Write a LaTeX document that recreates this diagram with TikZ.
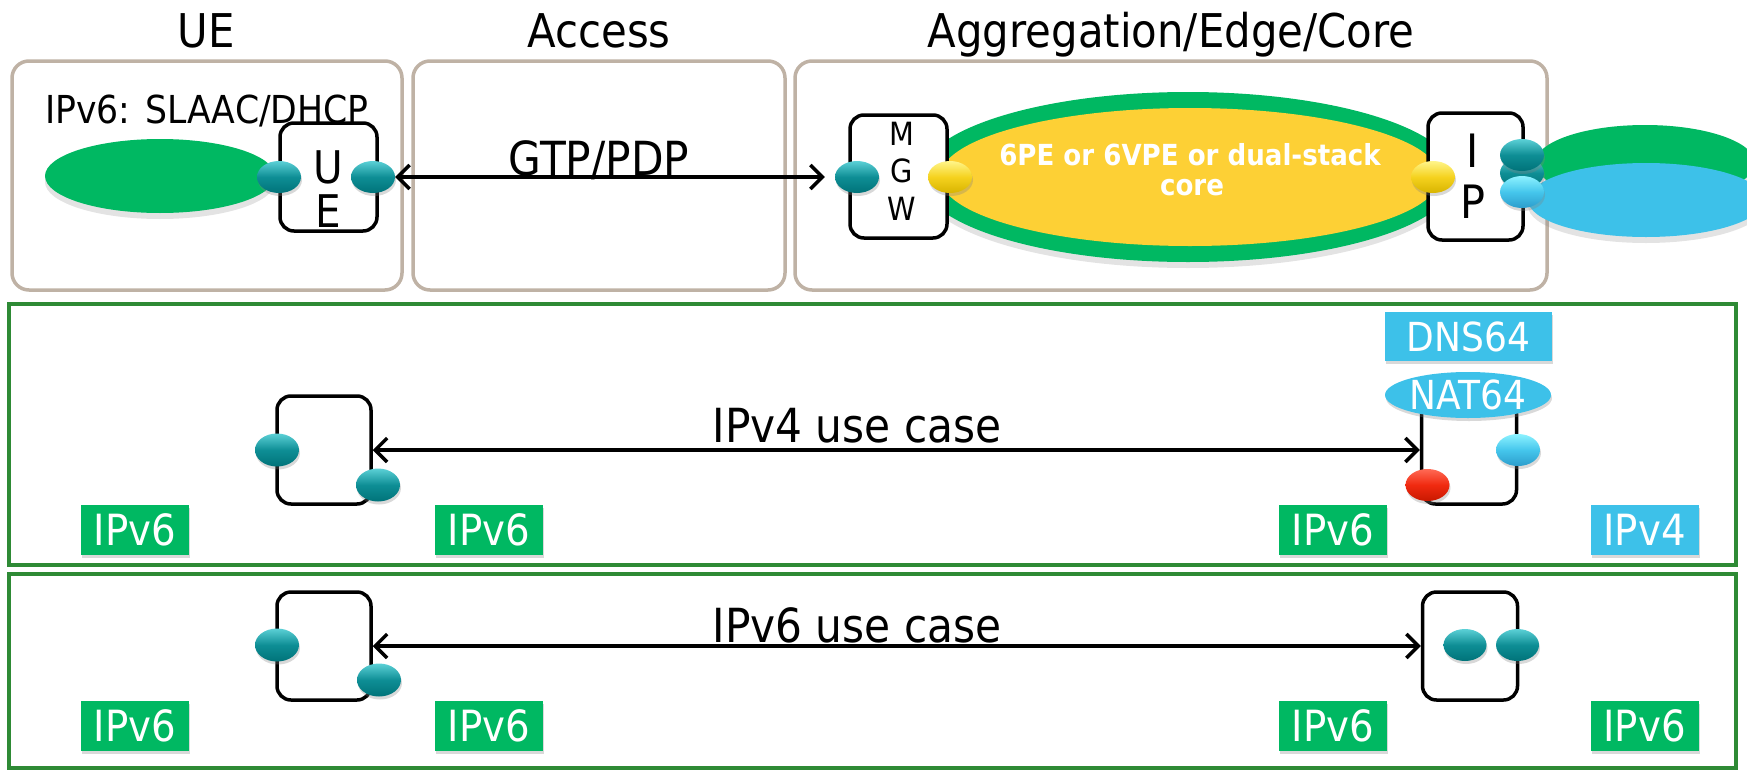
\documentclass[tikz,border=0pt]{standalone}
\usepackage{fontspec}
\setmainfont{DejaVu Sans}[FakeStretch=0.9]
\usetikzlibrary{shapes.geometric,arrows.meta,shadows}
\definecolor{tanc}{HTML}{BFB2A5}
\definecolor{frameg}{HTML}{2E8A35}
\definecolor{lgreen}{HTML}{00B862}
\definecolor{lyellow}{HTML}{FDD035}
\definecolor{lcyan}{HTML}{3DC1E9}
\definecolor{tealL}{HTML}{5BD0D6}
\definecolor{tealM}{HTML}{0E8E95}
\definecolor{tealD}{HTML}{007379}
\definecolor{yelL}{HTML}{FFF58A}
\definecolor{yelM}{HTML}{F5D21E}
\definecolor{yelD}{HTML}{D8B400}
\definecolor{cyaL}{HTML}{8CF2FF}
\definecolor{cyaM}{HTML}{45C6EC}
\definecolor{cyaD}{HTML}{2C9DCC}
\definecolor{redL}{HTML}{FF6A55}
\definecolor{redM}{HTML}{F02A10}
\definecolor{redD}{HTML}{C81800}
\newcommand\fsz[1]{\fontsize{#1}{#1}\selectfont}
\begin{document}
\begin{tikzpicture}[x=1pt,y=-1pt,
  txt/.style={inner sep=0pt},
  title/.style={txt,font=\fsz{46.5}},
  tanbox/.style={draw=tanc,line width=3.5pt,rounded corners=17pt,inner sep=0pt},
  devbox/.style={draw=black,line width=3.5pt,rounded corners=14pt,fill=white,inner sep=0pt},
  frame/.style={draw=frameg,line width=4pt,inner sep=0pt},
  shd/.style={drop shadow={shadow xshift=0pt,shadow yshift=-6pt,opacity=0.22}},
  sshd/.style={drop shadow={shadow xshift=1pt,shadow yshift=-3pt,opacity=0.3}},
  blob/.style={ellipse,inner sep=0pt,shd},
  ballbase/.style={ellipse,inner sep=0pt,minimum width=44pt,minimum height=32pt,sshd},
  tealball/.style={ballbase,top color=tealL,bottom color=tealD,middle color=tealM},
  yelball/.style={ballbase,top color=yelL,bottom color=yelD,middle color=yelM},
  cyaball/.style={ballbase,top color=cyaL,bottom color=cyaD,middle color=cyaM},
  redball/.style={ballbase,top color=redL,bottom color=redD,middle color=redM},
  lbl/.style={inner sep=0pt,text=white,minimum height=50pt,minimum width=108pt,font=\fsz{43},sshd},
  lblg/.style={lbl,fill=lgreen},
  lblc/.style={lbl,fill=lcyan},
  arr/.style={{Straight Barb[length=12pt,width=24pt]}-{Straight Barb[length=12pt,width=24pt]},line width=3.5pt},
]
\useasboundingbox (0,0) rectangle (1747,771);

% top row containers
\node[tanbox,minimum width=390pt,minimum height=229pt] (uebox) at (207,175.5) {};
\node[tanbox,minimum width=372pt,minimum height=229pt] (accbox) at (599,175.5) {};
\node[tanbox,minimum width=752pt,minimum height=229pt] (aggbox) at (1171,175.5) {};
\node[title,anchor=base] (tUE) at (206,47) {UE};
\node[title,anchor=base] (tAcc) at (599,47) {Access};
\node[title,anchor=base] (tAgg) at (1171,47) {Aggregation/Edge/Core};

% clouds
\node[blob,fill=lgreen,minimum width=230pt,minimum height=74pt] (uecloud) at (160,176) {};
\node[blob,fill=lgreen,minimum width=536pt,minimum height=170pt] (coreout) at (1188,177) {};
\node[ellipse,inner sep=0pt,fill=lyellow,minimum width=500pt,minimum height=138pt] (corein) at (1190,177) {};
\node[blob,fill=lgreen,minimum width=220pt,minimum height=76pt] (rgreen) at (1645,163) {};
\node[blob,fill=lcyan,minimum width=236pt,minimum height=74pt] (rcyan) at (1646,200) {};

% devices top
\node[devbox,minimum width=97pt,minimum height=108pt] (uedev) at (328.5,177) {};
\node[devbox,minimum width=97pt,minimum height=123pt] (mgw) at (898.5,176.5) {};
\node[devbox,minimum width=95pt,minimum height=127pt] (ipdev) at (1475.5,176.5) {};

\node[txt,anchor=base,font=\fsz{45}] (ueU) at (328,183) {U};
\node[txt,anchor=base,font=\fsz{45}] (ueE) at (328,227) {E};
\node[txt,anchor=base,font=\fsz{32}] (mM) at (902,145) {M};
\node[txt,anchor=base,font=\fsz{32}] (mG) at (902,182) {G};
\node[txt,anchor=base,font=\fsz{32}] (mW) at (902,220) {W};
\node[txt,anchor=base,font=\fsz{46}] (iI) at (1473,167) {I};
\node[txt,anchor=base,font=\fsz{46}] (iP) at (1473,218) {P};

\node[txt,anchor=base,font=\fsz{29}\bfseries,text=white] (core1) at (1190,165) {6PE or 6VPE or dual-stack};
\node[txt,anchor=base,font=\fsz{29}\bfseries,text=white] (core2) at (1192,195) {core};

\node[txt,anchor=base west,font=\fsz{38.5}] (slaac) at (45,123) {IPv6: SLAAC/DHCP};
\node[txt,anchor=base,font=\fsz{47}] (gtp) at (599,175) {GTP/PDP};

% balls top
\node[tealball] (b1) at (279,177) {};
\node[tealball] (b2) at (373,177) {};
\node[tealball] (b3) at (857,177) {};
\node[yelball] (y1) at (950,177) {};
\node[yelball] (y2) at (1433,177) {};
\node[tealball] (b5) at (1522,173) {};
\node[tealball] (b4) at (1522,155) {};
\node[cyaball] (c1) at (1522,192) {};

\draw[arr,shorten >=10pt] (b2.east) -- (b3.west);

% IPv4 use case panel
\node[frame,minimum width=1727pt,minimum height=261pt] (p1) at (872.5,434.5) {};
\node[devbox,minimum width=94pt,minimum height=108pt] (d1) at (324,450) {};
\node[devbox,minimum width=95pt,minimum height=104pt] (nat) at (1469,452) {};
\node[tealball,minimum height=33pt] (m1) at (277,450) {};
\node[tealball,minimum height=33pt] (m2) at (378,485) {};
\node[redball] (r1) at (1427.5,485) {};
\node[cyaball] (c2) at (1518,450) {};
\node[inner sep=0pt,fill=lcyan,text=white,minimum width=167pt,minimum height=49pt,font=\fsz{40},sshd] (dns) at (1468.5,336.5) {DNS64};
\node[ellipse,inner sep=0pt,fill=lcyan,text=white,minimum width=166pt,minimum height=46pt,font=\fsz{40},sshd] (nat64) at (1468,395) {NAT64};
\node[lblg] (l1) at (135,530) {IPv6};
\node[lblg] (l2) at (489,530) {IPv6};
\node[lblg] (l3) at (1333,530) {IPv6};
\node[lblc] (l4) at (1644.5,530) {IPv4};
\node[txt,anchor=base,font=\fsz{47}] (uc4) at (857,442) {IPv4 use case};
\draw[arr] (d1.east) -- (d1.east -| nat.west);

% IPv6 use case panel
\node[frame,minimum width=1727pt,minimum height=194pt] (p2) at (872.5,671) {};
\node[devbox,minimum width=94pt,minimum height=108pt] (d3) at (324,646) {};
\node[devbox,minimum width=95pt,minimum height=108pt] (d4) at (1470,646) {};
\node[tealball,minimum height=33pt] (n1) at (277,645) {};
\node[tealball,minimum height=33pt] (n2) at (379,680) {};
\node[tealball,minimum width=43pt] (n3) at (1465,645) {};
\node[tealball,minimum width=43pt] (n4) at (1517.5,645) {};
\node[lblg] (k1) at (135,726) {IPv6};
\node[lblg] (k2) at (489,726) {IPv6};
\node[lblg] (k3) at (1333,726) {IPv6};
\node[lblg] (k4) at (1644.5,726) {IPv6};
\node[txt,anchor=base,font=\fsz{47}] (uc6) at (857,642) {IPv6 use case};
\draw[arr] (d3.east) -- (d4.west);
\end{tikzpicture}
\end{document}
